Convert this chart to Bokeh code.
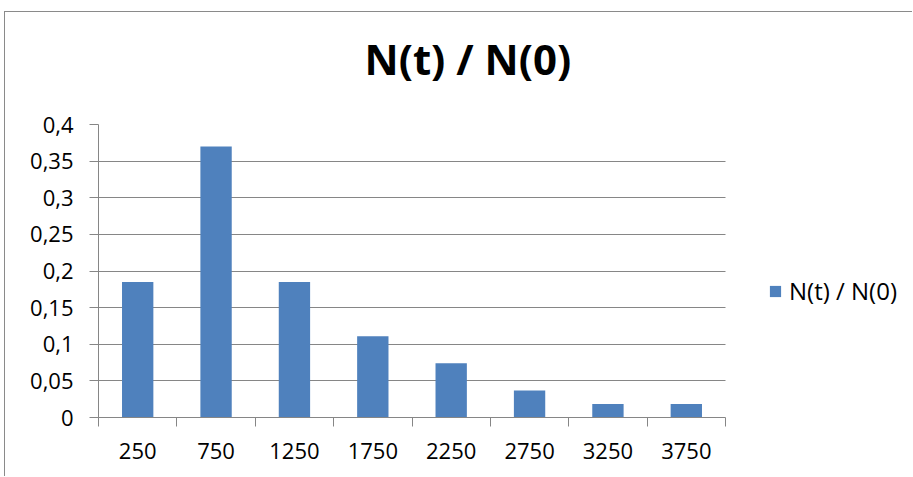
from bokeh.plotting import figure
from bokeh.models import (ColumnDataSource, Range1d, FixedTicker,
                          CustomJSTickFormatter, Legend, LegendItem, Title)
from bokeh.embed import file_html
from bokeh.resources import INLINE

# Data
categories = ["250", "750", "1250", "1750", "2250", "2750", "3250", "3750"]
ratio = [0.185, 0.37, 0.185, 0.111, 0.074, 0.037, 0.0185, 0.0185]
y_ticks = [0, 0.05, 0.1, 0.15, 0.2, 0.25, 0.3, 0.35, 0.4]
series_name = "N(t) / N(0)"
title_text = "N(t) / N(0)"

FONT = "Open Sans"
GRID = "#868686"
BAR = "#4F81BD"
EDGE = "#8a8a8a"

n = len(categories)
centers = [i + 0.5 for i in range(n)]
boundaries = [float(i) for i in range(n + 1)]
src = ColumnDataSource(dict(x=centers, top=ratio, cat=categories))

# Canvas geometry: plot area of the categories is 627 px wide, the frame
# continues to the right edge to leave room for the legend.
CANVAS_W, CANVAS_H = 908, 465
LEFT, TOP, BOTTOM = 93, 112, 60
CAT_W = 627
frame_w = CANVAS_W - LEFT
x_end = n * frame_w / CAT_W

p = figure(width=CANVAS_W, height=CANVAS_H,
           x_range=Range1d(0, x_end), y_range=Range1d(0, 0.4),
           output_backend="svg", toolbar_location=None,
           min_border_left=LEFT, min_border_right=0,
           min_border_top=TOP, min_border_bottom=BOTTOM)
p.margin = (11, 0, 0, 4)
p.styles = {"border-top": f"1px solid {EDGE}", "border-left": f"1px solid {EDGE}"}
p.background_fill_color = "white"
p.border_fill_color = "white"
p.outline_line_color = None
p.title = None

# Empty band between the plot area and the heading
gap = Title(text=" ", text_font_size="1px", standoff=33)
p.add_layout(gap, "above")

# Heading
heading = Title(text=title_text, text_font=FONT, text_font_size="42px",
                text_font_style="bold", text_color="black",
                align="left", offset=266, vertical_align="top", standoff=0)
p.add_layout(heading, "above")

# Bars
r = p.vbar(x="x", top="top", bottom=0, width=0.4, source=src,
           fill_color=BAR, line_color=None)

# X axis: labels at category centres, ticks on category boundaries
xa = p.xaxis[0]
xa.bounds = (0, n)
xa.ticker = FixedTicker(ticks=centers, minor_ticks=boundaries)
xa.formatter = CustomJSTickFormatter(args=dict(cats=categories),
                                     code="return cats[Math.floor(tick)];")
xa.major_tick_line_color = None
xa.minor_tick_line_color = GRID
xa.minor_tick_in = 0
xa.minor_tick_out = 9
xa.axis_line_color = GRID
xa.major_label_text_font = FONT
xa.major_label_text_font_size = "22px"
xa.major_label_text_color = "black"
xa.major_label_standoff = 16

# Y axis with comma decimals
ya = p.yaxis[0]
ya.ticker = FixedTicker(ticks=y_ticks)
ya.formatter = CustomJSTickFormatter(
    code="return String(Number(tick.toFixed(2))).replace('.', ',');")
ya.major_tick_line_color = GRID
ya.major_tick_in = 0
ya.major_tick_out = 9
ya.minor_tick_line_color = None
ya.axis_line_color = GRID
ya.major_label_text_font = FONT
ya.major_label_text_font_size = "22px"
ya.major_label_text_color = "black"
ya.major_label_standoff = 16

p.xgrid.visible = False
p.ygrid.grid_line_color = GRID
p.ygrid.grid_line_width = 1
p.ygrid.cross_bounds = (0, n)

# Legend to the right of the category area
legend = Legend(items=[LegendItem(label=series_name, renderers=[r])],
                location=(670, 110), orientation="vertical",
                padding=0, margin=0, spacing=0,
                glyph_width=14, glyph_height=14, label_standoff=7,
                label_text_font=FONT, label_text_font_size="24px",
                label_text_color="black",
                border_line_color=None, background_fill_alpha=0)
p.add_layout(legend, "center")

open("out.html", "w").write(file_html(p, INLINE))
